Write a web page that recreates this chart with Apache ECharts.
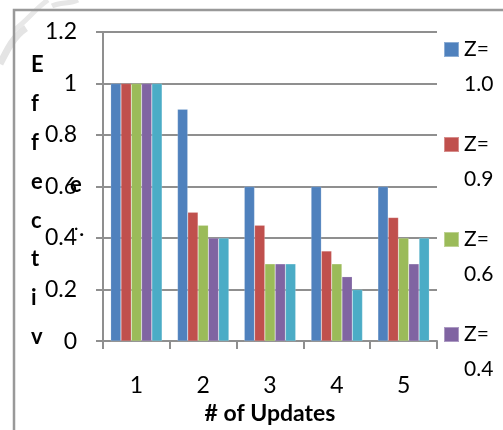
<!DOCTYPE html>
<html>
<head>
<meta charset="utf-8">
<script src="https://cdn.jsdelivr.net/npm/echarts@6/dist/echarts.min.js"></script>
<style>
  html, body { margin: 0; padding: 0; background: #fff; }
  #chart { width: 503px; height: 430px; }
</style>
</head>
<body>
<div id="chart"></div>
<script>
// Effectiveness per number of updates, grouped by Z
const categories = ['1', '2', '3', '4', '5'];
const seriesNames = ['Z=1.0', 'Z=0.9', 'Z=0.6', 'Z=0.4', 'Z=0.2'];
const z10 = [1.0, 0.9, 0.6, 0.6, 0.6];
const z09 = [1.0, 0.5, 0.45, 0.35, 0.48];
const z06 = [1.0, 0.45, 0.3, 0.3, 0.4];
const z04 = [1.0, 0.4, 0.3, 0.25, 0.3];
const z02 = [1.0, 0.4, 0.3, 0.2, 0.4];
const legendNames = ['Z=1.0', 'Z=0.9', 'Z=0.6', 'Z=0.4'];
const yTicks = [0, 0.2, 0.4, 0.6, 0.8, 1, 1.2];

const colors = ['#4F81BD', '#C0504D', '#9BBB59', '#8064A2', '#4BACC6'];
const values = [z10, z09, z06, z04, z02];
const font = 'Lato, "Liberation Sans", sans-serif';
const gridGray = '#8f8f8f';

const chart = echarts.init(document.getElementById('chart'), null, { renderer: 'canvas' });

chart.setOption({
  animation: false,
  color: colors,
  grid: { left: 103, top: 32, right: 66, bottom: 86, containLabel: false },
  legend: {
    data: legendNames,
    orient: 'vertical',
    left: 438,
    top: -8,
    itemWidth: 15,
    itemHeight: 15,
    itemGap: -10,
    icon: 'rect',
    selectedMode: false,
    formatter: n => '\n' + n.slice(0, 2) + '\n' + n.slice(2),
    textStyle: { fontFamily: font, fontSize: 21, color: '#000', lineHeight: 35 }
  },
  xAxis: {
    type: 'category',
    data: categories,
    name: '# of Updates',
    nameLocation: 'middle',
    nameGap: 50,
    nameTextStyle: { fontFamily: font, fontSize: 23, fontWeight: 'bold', color: '#000' },
    axisLine: { lineStyle: { color: gridGray, width: 2 } },
    axisTick: { show: true, length: 8, lineStyle: { color: gridGray, width: 2 } },
    axisLabel: { margin: 33, fontFamily: font, fontSize: 23, color: '#000' }
  },
  yAxis: {
    type: 'value',
    min: 0,
    max: 1.2,
    interval: 0.2,
    axisLine: { show: true, lineStyle: { color: gridGray, width: 2 } },
    axisTick: { show: true, length: 7, lineStyle: { color: gridGray, width: 2 } },
    splitLine: { show: true, lineStyle: { color: gridGray, width: 2 } },
    axisLabel: {
      margin: 26,
      fontFamily: font,
      fontSize: 23,
      color: '#000',
      formatter: v => {
        const t = yTicks.find(x => Math.abs(x - v) < 1e-9);
        return t === undefined ? '' : String(Math.round(t * 10) / 10);
      }
    }
  },
  series: seriesNames.map((name, i) => ({
    name,
    type: 'bar',
    data: values[i],
    barGap: '0%',
    barCategoryGap: '23%',
    itemStyle: { color: colors[i], borderColor: 'rgba(255,255,255,0.35)', borderWidth: 0.5 }
  })),
  graphic: [
    // faint background flourish, top-left corner
    {
      type: 'bezierCurve',
      shape: { x1: 0, y1: 64, x2: 26, y2: 28, cpx1: 8, cpy1: 48, cpx2: 14, cpy2: 36 },
      style: { stroke: '#e4e4e4', lineWidth: 7, fill: null },
      silent: true, z: -1
    },
    {
      type: 'bezierCurve',
      shape: { x1: 14, y1: 30, x2: 48, y2: 0, cpx1: 26, cpy1: 22, cpx2: 36, cpy2: 8 },
      style: { stroke: '#e8e8e8', lineWidth: 5, fill: null },
      silent: true, z: -1
    },
    {
      type: 'bezierCurve',
      shape: { x1: 52, y1: 6, x2: 78, y2: 0, cpx1: 60, cpy1: 2, cpx2: 70, cpy2: 4 },
      style: { stroke: '#e6e6e6', lineWidth: 5, fill: null },
      silent: true, z: -1
    },
    // page frame
    {
      type: 'polyline',
      shape: { points: [[14, 430], [14, 10], [503, 10]] },
      style: { stroke: '#999', lineWidth: 2.5, fill: null },
      silent: true
    },
    // vertical axis title, one letter per line
    {
      type: 'text',
      left: 31,
      top: 46,
      style: {
        text: 'E\nf\nf\ne\nc\nt\ni\nv',
        fontFamily: font,
        fontSize: 22,
        fontWeight: 'bold',
        lineHeight: 38.8,
        fill: '#000',
        align: 'center'
      },
      silent: true
    },
    {
      type: 'text',
      left: 70,
      top: 174,
      style: { text: 'e', fontFamily: font, fontSize: 22, fontWeight: 'bold', fill: '#000' },
      silent: true
    },
    {
      type: 'text',
      left: 73,
      top: 226,
      style: { text: '\u02D9\u00B7', fontFamily: font, fontSize: 16, fontWeight: 'bold', fill: '#000' },
      silent: true
    }
  ]
});
</script>
</body>
</html>
